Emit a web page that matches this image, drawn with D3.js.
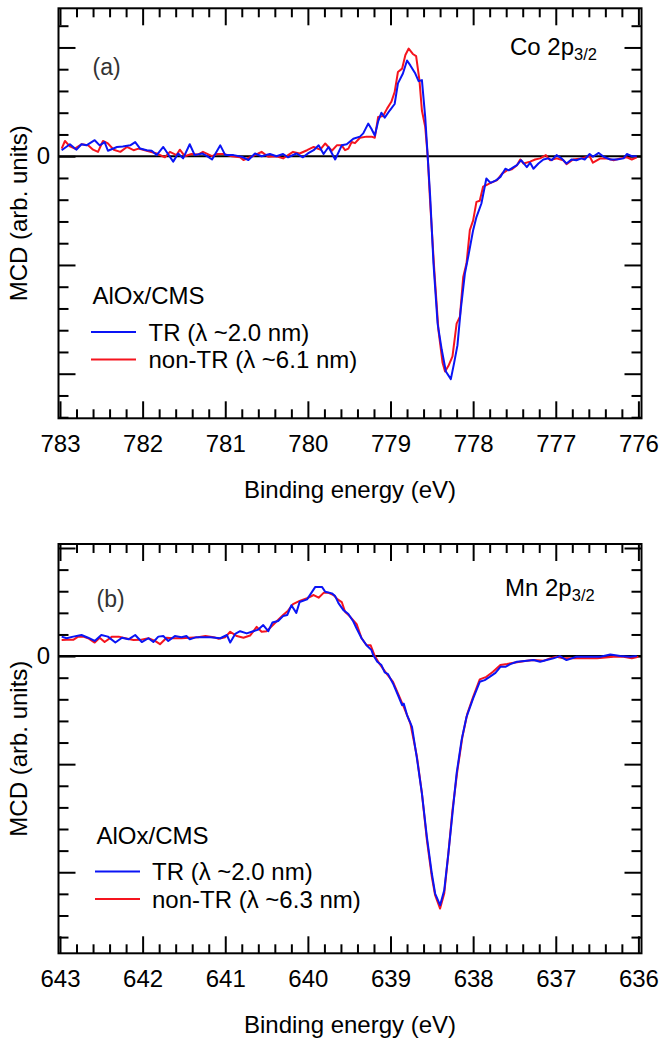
<!DOCTYPE html>
<html>
<head>
<meta charset="utf-8">
<script src="https://cdn.jsdelivr.net/npm/d3@7"></script>
<style>
  body { margin: 0; background: #fff; }
  svg { display: block; }
</style>
</head>
<body>
<div id="chart"></div>
<script>
// Co 2p3/2 MCD, [binding energy (eV), MCD (arb. units)]
var coTR = [
  [782.98, 0.055], [782.88, 0.11], [782.80, 0.06], [782.74, 0.11], [782.68, 0.10], [782.58, 0.147],
  [782.52, 0.10], [782.46, 0.13], [782.42, 0.05], [782.31, 0.085], [782.24, 0.09], [782.15, 0.10],
  [782.09, 0.13], [782.03, 0.07], [781.95, 0.055], [781.89, 0.05], [781.83, 0.01], [781.75, 0.085],
  [781.63, -0.05], [781.57, 0.025], [781.51, -0.02], [781.43, 0.11], [781.37, 0.01], [781.28, 0.025],
  [781.22, 0.0], [781.16, -0.03], [781.06, 0.10], [781.00, 0.01], [780.90, 0.01], [780.80, -0.005],
  [780.72, -0.035], [780.64, 0.025], [780.56, 0.0], [780.46, 0.02], [780.38, 0.0], [780.30, 0.02],
  [780.24, -0.01], [780.14, 0.025], [780.06, -0.01], [780.00, 0.025], [779.93, 0.055], [779.87, 0.10],
  [779.81, 0.02], [779.75, 0.085], [779.67, -0.03], [779.59, 0.10], [779.53, 0.11], [779.45, 0.16],
  [779.37, 0.18], [779.33, 0.21], [779.27, 0.30], [779.23, 0.25], [779.19, 0.19], [779.15, 0.32],
  [779.11, 0.40], [779.07, 0.355], [779.01, 0.42], [778.95, 0.48], [778.91, 0.67], [778.85, 0.76],
  [778.80, 0.88], [778.76, 0.835], [778.70, 0.76], [778.66, 0.69], [778.62, 0.70], [778.58, 0.36],
  [778.55, 0.0], [778.52, -0.37], [778.48, -0.985], [778.43, -1.54], [778.38, -1.78], [778.33, -1.98],
  [778.27, -2.05], [778.23, -1.90], [778.19, -1.74], [778.15, -1.41], [778.10, -1.08], [778.06, -0.925],
  [778.00, -0.68], [777.96, -0.56], [777.90, -0.435], [777.84, -0.205], [777.79, -0.245], [777.73, -0.225],
  [777.67, -0.19], [777.61, -0.115], [777.57, -0.13], [777.52, -0.105], [777.47, -0.083], [777.42, -0.037],
  [777.35, -0.10], [777.31, -0.06], [777.27, -0.115], [777.21, -0.067], [777.15, -0.03], [777.09, -0.02],
  [777.05, -0.037], [776.99, 0.01], [776.93, -0.02], [776.87, -0.067], [776.81, -0.03], [776.75, -0.037],
  [776.69, -0.02], [776.65, -0.03], [776.59, 0.02], [776.55, -0.005], [776.48, 0.03], [776.42, -0.005],
  [776.34, -0.03], [776.26, -0.03], [776.18, -0.02], [776.14, 0.02], [776.08, 0.0], [776.02, 0.0]
];
var coNonTR = [
  [782.98, 0.07], [782.94, 0.14], [782.88, 0.09], [782.82, 0.07], [782.74, 0.11], [782.66, 0.10],
  [782.60, 0.06], [782.54, 0.04], [782.48, 0.14], [782.42, 0.117], [782.35, 0.06], [782.27, 0.04],
  [782.19, 0.085], [782.11, 0.055], [782.05, 0.07], [781.95, 0.05], [781.83, 0.025], [781.73, -0.01],
  [781.67, 0.04], [781.59, 0.01], [781.55, 0.06], [781.49, 0.0], [781.41, 0.02], [781.33, 0.015],
  [781.27, 0.04], [781.16, 0.0], [781.10, 0.02], [781.02, 0.02], [780.92, 0.0], [780.82, -0.01],
  [780.78, -0.035], [780.70, -0.01], [780.60, 0.025], [780.56, 0.04], [780.48, -0.005], [780.38, 0.0],
  [780.30, -0.02], [780.18, 0.04], [780.10, 0.025], [780.01, 0.055], [779.93, 0.085], [779.85, 0.06],
  [779.79, 0.117], [779.71, 0.05], [779.65, 0.10], [779.59, 0.10], [779.55, 0.055], [779.51, 0.07],
  [779.47, 0.13], [779.43, 0.12], [779.37, 0.17], [779.29, 0.18], [779.23, 0.18], [779.19, 0.17],
  [779.15, 0.36], [779.09, 0.37], [779.04, 0.44], [778.99, 0.50], [778.95, 0.59], [778.91, 0.775],
  [778.86, 0.805], [778.82, 0.93], [778.78, 0.99], [778.73, 0.94], [778.69, 0.92], [778.65, 0.70],
  [778.62, 0.42], [778.58, 0.27], [778.55, 0.0], [778.52, -0.43], [778.47, -1.05], [778.42, -1.60],
  [778.37, -1.90], [778.34, -1.98], [778.30, -1.93], [778.25, -1.84], [778.20, -1.54], [778.16, -1.475],
  [778.12, -1.11], [778.08, -0.985], [778.04, -0.68], [778.00, -0.59], [777.96, -0.42], [777.92, -0.41],
  [777.88, -0.28], [777.84, -0.265], [777.80, -0.25], [777.71, -0.22], [777.65, -0.16], [777.59, -0.13],
  [777.53, -0.12], [777.47, -0.083], [777.43, -0.03], [777.39, -0.067], [777.31, -0.05], [777.25, -0.03],
  [777.19, -0.02], [777.12, 0.01], [777.07, -0.037], [776.99, -0.02], [776.91, -0.037], [776.87, -0.073],
  [776.79, -0.03], [776.69, -0.02], [776.59, 0.0], [776.55, -0.06], [776.46, -0.02], [776.38, -0.02],
  [776.30, -0.037], [776.22, -0.02], [776.14, -0.01], [776.08, -0.03], [776.02, -0.01]
];

// Mn 2p3/2 MCD
var mnTR = [
  [642.98, 0.18], [642.92, 0.165], [642.84, 0.18], [642.74, 0.195], [642.66, 0.17], [642.58, 0.14],
  [642.50, 0.195], [642.42, 0.18], [642.33, 0.125], [642.25, 0.17], [642.17, 0.155], [642.09, 0.195],
  [642.01, 0.13], [641.93, 0.165], [641.87, 0.13], [641.81, 0.18], [641.75, 0.185], [641.69, 0.14],
  [641.61, 0.185], [641.53, 0.175], [641.47, 0.185], [641.43, 0.155], [641.35, 0.175], [641.27, 0.175],
  [641.18, 0.175], [641.06, 0.165], [640.98, 0.195], [640.94, 0.125], [640.88, 0.205], [640.82, 0.23],
  [640.74, 0.21], [640.68, 0.225], [640.60, 0.245], [640.54, 0.287], [640.48, 0.23], [640.43, 0.31],
  [640.36, 0.325], [640.30, 0.37], [640.25, 0.38], [640.20, 0.47], [640.14, 0.40], [640.10, 0.50],
  [640.01, 0.525], [639.91, 0.64], [639.83, 0.64], [639.79, 0.595], [639.71, 0.58], [639.67, 0.555],
  [639.63, 0.49], [639.57, 0.425], [639.51, 0.39], [639.45, 0.32], [639.41, 0.255], [639.35, 0.165],
  [639.29, 0.10], [639.23, 0.055], [639.21, 0.01], [639.16, -0.053], [639.11, -0.083], [639.07, -0.15],
  [639.03, -0.167], [638.97, -0.253], [638.91, -0.36], [638.86, -0.454], [638.84, -0.44], [638.80, -0.546],
  [638.74, -0.655], [638.68, -0.948], [638.62, -1.27], [638.56, -1.673], [638.50, -2.012], [638.46, -2.197],
  [638.40, -2.305], [638.35, -2.167], [638.30, -1.827], [638.25, -1.456], [638.20, -1.086], [638.14, -0.778],
  [638.08, -0.562], [638.00, -0.392], [637.92, -0.238], [637.86, -0.222], [637.80, -0.192], [637.73, -0.155],
  [637.67, -0.099], [637.61, -0.099], [637.55, -0.074], [637.47, -0.053], [637.35, -0.044], [637.27, -0.037],
  [637.19, -0.053], [637.11, -0.037], [637.03, -0.021], [636.95, 0.0], [636.87, -0.037], [636.75, -0.006],
  [636.58, -0.006], [636.46, -0.006], [636.34, 0.015], [636.22, 0.0], [636.10, -0.006], [636.02, 0.0]
];
var mnNonTR = [
  [642.98, 0.148], [642.92, 0.15], [642.84, 0.15], [642.78, 0.18], [642.72, 0.18], [642.66, 0.165],
  [642.58, 0.125], [642.52, 0.17], [642.46, 0.13], [642.37, 0.18], [642.29, 0.18], [642.21, 0.165],
  [642.11, 0.148], [642.03, 0.15], [641.93, 0.165], [641.85, 0.14], [641.79, 0.11], [641.71, 0.17],
  [641.63, 0.165], [641.53, 0.165], [641.43, 0.17], [641.33, 0.175], [641.24, 0.185], [641.14, 0.175],
  [641.08, 0.16], [641.00, 0.175], [640.94, 0.225], [640.86, 0.185], [640.78, 0.17], [640.70, 0.19],
  [640.62, 0.27], [640.56, 0.225], [640.50, 0.23], [640.42, 0.29], [640.30, 0.38], [640.24, 0.42],
  [640.18, 0.48], [640.10, 0.51], [640.01, 0.535], [639.93, 0.565], [639.87, 0.54], [639.81, 0.585],
  [639.75, 0.585], [639.69, 0.565], [639.64, 0.525], [639.59, 0.50], [639.55, 0.41], [639.49, 0.365],
  [639.41, 0.296], [639.35, 0.165], [639.29, 0.10], [639.24, 0.10], [639.19, 0.0], [639.13, -0.075],
  [639.05, -0.16], [638.97, -0.238], [638.91, -0.345], [638.84, -0.47], [638.76, -0.623], [638.68, -0.932],
  [638.62, -1.27], [638.56, -1.70], [638.50, -2.043], [638.46, -2.213], [638.40, -2.336], [638.35, -2.197],
  [638.30, -1.827], [638.25, -1.426], [638.19, -1.056], [638.13, -0.747], [638.07, -0.531], [638.00, -0.377],
  [637.92, -0.216], [637.84, -0.192], [637.76, -0.145], [637.67, -0.083], [637.59, -0.074], [637.51, -0.062],
  [637.43, -0.053], [637.35, -0.044], [637.27, -0.037], [637.15, -0.044], [637.07, -0.021], [636.99, -0.006],
  [636.91, -0.02], [636.75, -0.02], [636.63, -0.02], [636.50, -0.02], [636.30, -0.006], [636.18, -0.006],
  [636.08, -0.02], [636.00, -0.006]
];

var coEnergyTicks = [783, 782, 781, 780, 779, 778, 777, 776];
var mnEnergyTicks = [643, 642, 641, 640, 639, 638, 637, 636];
var seriesNames = ['TR (\u03bb ~2.0 nm)', 'non-TR (\u03bb ~6.1 nm)'];
var seriesNamesMn = ['TR (\u03bb ~2.0 nm)', 'non-TR (\u03bb ~6.3 nm)'];

(function () {
    'use strict';

    var font = '"Liberation Sans", Arial, Helvetica, sans-serif';
    var blue = '#0a14f5', red = '#f5141e';

    var svg = d3.select('#chart')
        .append('svg')
        .attr('width', 659)
        .attr('height', 1038)
        .style('font-family', font);

    var panels = [
        {
            top: 8.3, bottom: 418.3, yDomain: [-2.41, 1.36],
            ticks: coEnergyTicks, tr: coTR, nonTr: coNonTR, names: seriesNames,
            tag: '(a)', tagPos: [92.5, 74.5], edge: 'Co 2p', edgePos: [510, 55],
            legendX: 91, legendTextX: 148.5, legendY: 304
        },
        {
            top: 544, bottom: 953.3, yDomain: [-2.75, 1.037],
            ticks: mnEnergyTicks, tr: mnTR, nonTr: mnNonTR, names: seriesNamesMn,
            tag: '(b)', tagPos: [96.5, 606.5], edge: 'Mn 2p', edgePos: [505, 596],
            legendX: 95, legendTextX: 152, legendY: 843.5
        }
    ];

    panels.forEach(drawPanel);

    function drawPanel(p) {
        var left = 58.5, right = 641.5;
        var hi = p.ticks[0], lo = p.ticks[p.ticks.length - 1];

        var x = d3.scaleLinear().domain([hi, lo]).range([60, 638.4]);
        var y = d3.scaleLinear().domain(p.yDomain).range([p.bottom, p.top]);

        var g = svg.append('g');

        // minor / major tick values
        var xMinor = d3.range(lo * 5, hi * 5 + 1).map(function (v) { return v / 5; })
            .filter(function (v) { return Math.abs(v - Math.round(v)) > 1e-6; });
        var yAll = d3.range(Math.ceil(p.yDomain[0] * 5), Math.floor(p.yDomain[1] * 5) + 1)
            .map(function (v) { return v / 5; });
        var yMinor = yAll.filter(function (v) { return Math.abs(v - Math.round(v)) > 1e-6; });
        var yMajor = yAll.filter(function (v) { return Math.abs(v - Math.round(v)) <= 1e-6; });

        function style(sel) {
            sel.select('.domain').remove();
            sel.selectAll('line').attr('stroke', '#000').attr('stroke-width', 2);
            sel.attr('font-family', font).attr('font-size', 24);
            sel.selectAll('text').attr('fill', '#000');
        }

        // bottom axis with labels
        g.append('g').attr('transform', 'translate(0,' + p.bottom + ')')
            .call(d3.axisBottom(x).tickValues(p.ticks).tickSize(-17).tickPadding(17)
                .tickFormat(d3.format('d')))
            .call(style);
        g.append('g').attr('transform', 'translate(0,' + p.bottom + ')')
            .call(d3.axisBottom(x).tickValues(xMinor).tickSize(-9).tickFormat(''))
            .call(style);
        // top mirror axis
        g.append('g').attr('transform', 'translate(0,' + p.top + ')')
            .call(d3.axisTop(x).tickValues(p.ticks).tickSize(-17).tickFormat(''))
            .call(style);
        g.append('g').attr('transform', 'translate(0,' + p.top + ')')
            .call(d3.axisTop(x).tickValues(xMinor).tickSize(-9).tickFormat(''))
            .call(style);

        // left axis: only 0 labelled
        g.append('g').attr('transform', 'translate(' + left + ',0)')
            .call(d3.axisLeft(y).tickValues(yMajor).tickSize(-17).tickPadding(8.5)
                .tickFormat(function (d) { return d === 0 ? '0' : ''; }))
            .call(style);
        g.append('g').attr('transform', 'translate(' + left + ',0)')
            .call(d3.axisLeft(y).tickValues(yMinor).tickSize(-10).tickFormat(''))
            .call(style);
        // right mirror axis
        g.append('g').attr('transform', 'translate(' + right + ',0)')
            .call(d3.axisRight(y).tickValues(yMajor).tickSize(-17).tickFormat(''))
            .call(style);
        g.append('g').attr('transform', 'translate(' + right + ',0)')
            .call(d3.axisRight(y).tickValues(yMinor).tickSize(-10).tickFormat(''))
            .call(style);

        // frame
        g.append('rect')
            .attr('x', left).attr('y', p.top)
            .attr('width', right - left).attr('height', p.bottom - p.top)
            .attr('fill', 'none').attr('stroke', '#000').attr('stroke-width', 2);

        // zero line
        g.append('line')
            .attr('x1', left).attr('x2', right)
            .attr('y1', y(0)).attr('y2', y(0))
            .attr('stroke', '#000').attr('stroke-width', 2);

        var line = d3.line()
            .x(function (d) { return x(d[0]); })
            .y(function (d) { return y(d[1]); });

        g.append('path').datum(p.nonTr)
            .attr('d', line).attr('fill', 'none')
            .attr('stroke', red).attr('stroke-width', 2).attr('stroke-linejoin', 'round');
        g.append('path').datum(p.tr)
            .attr('d', line).attr('fill', 'none')
            .attr('stroke', blue).attr('stroke-width', 2).attr('stroke-linejoin', 'round');

        // axis titles
        g.append('text')
            .attr('x', (left + right) / 2).attr('y', p.bottom + 79.5)
            .attr('text-anchor', 'middle').attr('font-size', 24)
            .text('Binding energy (eV)');
        g.append('text')
            .attr('transform', 'translate(27,' + ((p.top + p.bottom) / 2) + ') rotate(-90)')
            .attr('text-anchor', 'middle').attr('font-size', 24)
            .text('MCD (arb. units)');

        // panel tag and edge label
        g.append('text')
            .attr('x', p.tagPos[0]).attr('y', p.tagPos[1])
            .attr('font-size', 23).attr('fill', '#333')
            .text(p.tag);
        var edge = g.append('text')
            .attr('x', p.edgePos[0]).attr('y', p.edgePos[1])
            .attr('font-size', 24);
        edge.append('tspan').text(p.edge);
        edge.append('tspan').attr('dy', 5).attr('font-size', 16.5).text('3/2');

        // legend
        g.append('text')
            .attr('x', p.legendX + 1.5).attr('y', p.legendY)
            .attr('font-size', 24).text('AlOx/CMS');
        [[blue, p.names[0]], [red, p.names[1]]].forEach(function (s, i) {
            var ly = p.legendY + 28 + i * 27.5;
            g.append('line')
                .attr('x1', p.legendX).attr('x2', p.legendX + 45)
                .attr('y1', ly).attr('y2', ly)
                .attr('stroke', s[0]).attr('stroke-width', 1.8);
            g.append('text')
                .attr('x', p.legendTextX).attr('y', ly + 8.5)
                .attr('font-size', 24).text(s[1]);
        });
    }
})();
</script>
</body>
</html>
